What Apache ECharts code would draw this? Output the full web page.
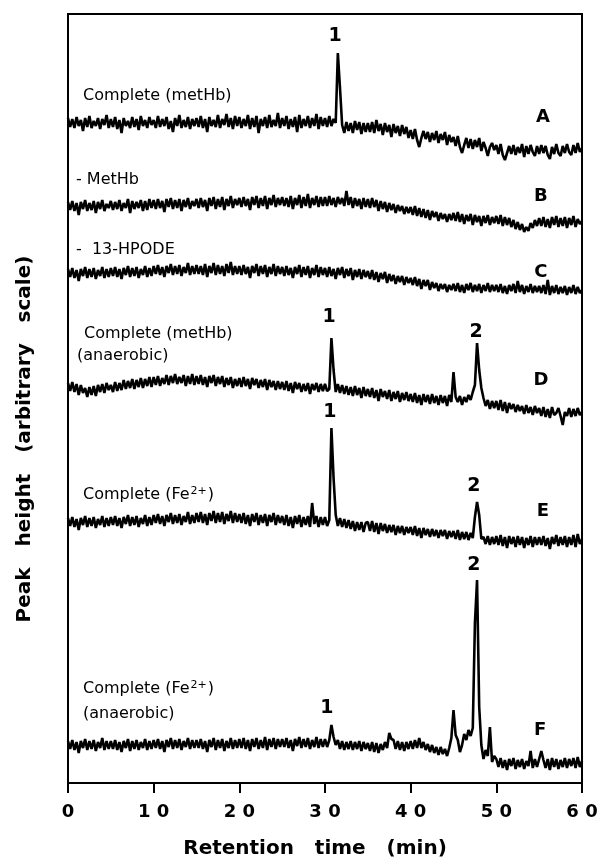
<!DOCTYPE html>
<html>
<head>
<meta charset="utf-8">
<script src="https://cdn.jsdelivr.net/npm/echarts@6/dist/echarts.min.js"></script>
<style>
  html, body { margin: 0; background: #fff; }
  #chart { width: 599px; height: 860px; }
</style>
</head>
<body>
<div id="chart"></div>
<script>
// retention time grid: one reading every 0.25 min, 0..60
const step = 0.25;

// detector traces, arbitrary units, stacked (A on top, F at the bottom)
const traceA = [
  665,656,664,655,666,657,663,652,665,656,667,655,662,657,665,654,664,658,668,655,
  664,656,666,654,663,650,665,657,662,655,666,656,664,653,667,657,663,655,666,658,
  663,655,667,656,664,657,666,654,662,651,665,657,668,655,663,656,666,654,664,657,
  665,656,667,655,664,651,666,657,663,656,668,655,664,658,669,656,665,654,667,657,
  666,655,664,657,668,654,665,656,667,650,664,657,666,655,668,656,663,657,670,655,
  665,657,667,654,664,656,666,651,668,655,664,657,667,655,665,657,669,654,666,657,
  665,656,667,657,664,660,730,695,658,650,661,652,660,650,662,653,661,649,660,651,
  660,651,661,650,663,652,659,648,660,651,658,646,659,650,657,647,658,649,656,645,
  653,644,654,643,636,645,652,644,651,641,650,643,652,640,649,643,651,638,648,641,
  646,637,647,636,630,638,645,635,644,634,643,636,645,632,641,635,627,636,640,633,
  638,629,639,628,623,630,637,629,638,628,636,630,639,626,637,629,638,631,627,637,
  629,638,630,637,628,624,636,629,639,630,627,637,630,639,631,628,638,630,640,631,
  635
];
const traceB = [
  581,573,582,572,580,568,581,574,583,572,580,573,582,570,581,574,583,572,579,575,
  582,573,581,574,583,572,580,575,584,570,582,574,581,575,583,572,582,573,584,575,
  583,574,584,575,582,571,584,576,585,574,583,575,584,572,583,576,585,574,582,577,
  584,575,585,576,583,572,585,577,586,574,584,576,586,573,584,577,587,575,584,578,
  585,576,586,577,584,573,586,578,587,575,585,577,587,574,585,578,588,576,585,578,
  586,577,585,576,587,574,585,578,588,575,586,577,589,575,585,578,587,576,586,577,
  586,577,587,578,585,576,586,579,585,577,592,578,586,575,585,577,584,574,585,576,
  584,575,585,576,583,572,582,574,581,571,580,573,579,570,578,572,577,569,576,570,
  576,568,577,567,575,566,574,565,573,563,572,566,571,562,570,564,569,561,569,563,
  570,562,571,561,569,559,568,562,569,558,568,561,567,557,567,560,568,558,566,560,
  567,559,568,557,566,558,565,556,563,554,561,553,559,551,556,552,560,555,563,557,
  565,557,566,556,564,555,566,558,567,556,565,557,566,555,565,558,567,556,564,559,
  562
];
const traceC = [
  514,506,515,505,513,502,514,507,516,505,514,506,515,504,513,507,516,505,514,506,
  515,507,516,506,514,504,515,508,517,506,515,507,516,505,514,508,517,506,515,507,
  517,509,518,508,516,506,517,510,519,508,517,509,518,507,516,510,520,508,517,509,
  518,509,517,508,519,506,517,510,520,508,518,509,517,507,519,510,521,508,517,509,
  517,508,518,509,516,505,517,510,519,507,517,509,518,506,516,509,519,507,517,509,
  516,507,517,508,515,505,516,509,518,506,516,508,517,505,515,508,518,506,516,508,
  515,506,516,507,514,504,515,508,516,505,514,507,515,503,513,506,514,504,513,506,
  512,504,513,503,511,501,510,504,511,500,509,502,508,499,507,501,507,498,506,500,
  505,498,506,497,504,494,503,497,503,493,501,495,500,492,499,494,499,491,498,493,
  499,492,500,491,498,490,499,493,500,491,498,492,499,490,498,492,500,491,498,492,
  498,491,499,490,497,489,498,492,499,490,502,491,498,489,497,491,499,490,497,491,
  497,490,498,489,503,488,497,490,498,489,496,490,497,488,496,490,498,489,496,490,
  493
];
const traceD = [
  400,392,401,391,399,388,398,390,395,386,396,388,397,387,398,391,399,390,400,393,
  398,391,401,392,400,393,403,394,402,395,404,394,403,396,405,395,404,397,406,396,
  406,398,407,397,405,399,408,398,407,400,409,399,406,400,408,397,407,399,409,398,
  407,399,408,398,406,396,407,400,408,397,406,399,407,396,405,398,406,395,404,397,
  405,396,406,397,404,394,405,398,404,395,403,396,404,393,403,396,402,393,402,394,
  401,393,402,392,400,390,401,394,400,391,399,392,400,389,399,393,400,391,399,392,
  399,392,394,445,413,391,399,390,398,389,397,388,396,387,397,388,395,385,396,387,
  394,386,395,385,393,382,394,386,392,384,393,382,391,384,392,381,390,383,391,382,
  389,381,390,380,388,378,389,381,388,379,389,380,387,378,388,380,387,377,388,381,
  411,386,381,387,378,386,381,388,383,391,398,440,413,395,385,377,383,374,382,375,
  382,373,383,372,381,370,380,374,379,371,378,372,377,369,378,370,376,368,377,370,
  375,367,376,366,374,365,376,368,370,375,367,358,371,367,375,366,374,367,375,368,
  371
];
const traceE = [
  265,257,266,256,264,253,265,258,267,256,265,257,266,255,264,258,267,256,265,257,
  266,258,267,257,265,255,266,259,268,257,266,258,267,256,265,259,268,257,266,258,
  268,260,269,259,267,257,268,261,270,259,268,260,269,258,267,261,271,259,268,260,
  270,261,271,260,269,258,270,262,272,260,270,261,271,259,269,262,272,260,270,261,
  269,260,270,259,268,257,269,261,270,258,268,260,269,257,268,261,270,258,268,260,
  267,258,268,257,266,255,267,259,268,256,266,258,267,256,280,259,267,256,266,258,
  266,257,263,355,305,268,257,265,256,264,255,263,254,262,252,261,253,261,251,260,
  261,252,262,251,260,249,260,252,259,250,258,251,258,248,257,250,257,248,256,250,
  256,248,257,247,255,245,255,248,254,246,254,247,253,245,253,247,253,244,252,246,
  252,244,253,243,251,244,251,243,250,245,266,281,268,244,246,239,247,238,246,239,
  247,238,248,237,246,235,247,239,246,236,247,238,246,235,245,238,247,236,246,238,
  246,238,247,237,245,234,246,239,248,237,246,238,247,236,246,238,248,236,249,239,
  244
];
const traceF = [
  42,34,43,33,41,30,42,35,44,33,42,34,43,32,41,35,45,33,42,34,
  42,34,43,33,41,31,42,35,44,32,42,34,43,33,41,35,44,33,42,34,
  43,35,44,34,42,31,43,36,45,34,43,35,44,33,42,36,45,34,43,35,
  43,35,44,34,42,31,43,36,45,33,43,35,44,32,42,35,45,34,43,35,
  44,35,45,34,43,32,44,36,45,34,43,35,46,33,44,36,45,34,44,36,
  44,36,45,35,43,32,44,37,46,35,44,36,45,34,43,36,46,35,44,36,
  44,36,43,58,46,38,43,34,42,33,41,34,42,33,41,34,42,32,41,34,
  40,32,41,31,40,30,39,33,41,35,50,44,43,34,42,33,41,32,41,34,
  42,34,43,35,45,35,41,33,39,31,38,30,36,28,36,29,34,27,35,45,
  73,48,43,31,38,49,43,53,47,55,160,203,76,38,24,33,27,56,21,27,
  24,16,25,15,23,13,24,17,25,14,23,16,24,14,22,17,32,15,24,16,
  24,32,23,15,24,13,25,16,24,14,23,16,25,15,24,17,25,15,26,16,
  22
];

const traces = [traceA, traceB, traceC, traceD, traceE, traceF];
const times = traceA.map((_, i) => i * step);

// [letter, time, height]
const traceNames = [
  ['A', 55.45, 666], ['B', 55.2, 587], ['C', 55.2, 511],
  ['D', 55.2, 403], ['E', 55.45, 272], ['F', 55.1, 53]
];
// [text, time, height] left aligned condition notes
const conditionNotes = [
  ['{n|Complete (metHb)}', 1.75, 687],
  ['{n|- MetHb}', 0.93, 603],
  ['{n|-  13-HPODE}', 0.93, 533],
  ['{n|Complete (metHb)}', 1.87, 449],
  ['{n|(anaerobic)}', 1.05, 427],
  ['{n|Complete (Fe}{s|2+}{n|)}', 1.75, 288],
  ['{n|Complete (Fe}{s|2+}{n|)}', 1.75, 94],
  ['{n|(anaerobic)}', 1.75, 69]
];
// [peak number, time, height]
const peakNumbers = [
  ['1', 31.17, 747],
  ['1', 30.47, 466], ['2', 47.63, 451],
  ['1', 30.58, 371], ['2', 47.39, 297],
  ['1', 30.23, 75], ['2', 47.39, 218]
];

const chart = echarts.init(document.getElementById('chart'));

chart.setOption({
  animation: false,
  backgroundColor: '#fff',
  grid: {
    left: 68, right: 17, top: 14, bottom: 77,
    containLabel: false,
    outerBoundsMode: 'none',
    show: true, borderColor: '#000', borderWidth: 2
  },
  xAxis: {
    type: 'value',
    min: 0, max: 60, interval: 10,
    name: 'Retention   time   (min)',
    nameLocation: 'middle',
    nameGap: 56,
    nameTextStyle: {
      fontFamily: 'DejaVu Sans', fontWeight: 'bold', fontSize: 20,
      color: '#000', padding: [0, 20, 0, 0]
    },
    axisLine: { lineStyle: { color: '#000', width: 2 } },
    axisTick: { inside: false, length: 10, lineStyle: { color: '#000', width: 2 } },
    axisLabel: {
      margin: 20,
      fontFamily: 'DejaVu Sans', fontWeight: 'bold', fontSize: 18, color: '#000',
      formatter: v => String(v).split('').join(' ')
    },
    splitLine: { show: false }
  },
  yAxis: {
    type: 'value',
    min: 0, max: 769,
    axisLine: { show: true, lineStyle: { color: '#000', width: 2 } },
    axisTick: { show: false },
    axisLabel: { show: false },
    splitLine: { show: false }
  },
  series: traces.map(tr => ({
    type: 'line',
    showSymbol: false,
    symbol: 'none',
    lineStyle: { color: '#000', width: 2.6 },
    data: tr.map((v, i) => [times[i], v])
  }))
});

const px = (t, v) => chart.convertToPixel({ gridIndex: 0 }, [t, v]);
const graphics = [];

conditionNotes.forEach(([text, t, v]) => {
  const p = px(t, v);
  graphics.push({
    type: 'text', x: p[0], y: p[1],
    style: {
      text: text,
      align: 'left', verticalAlign: 'middle',
      rich: {
        n: { fontFamily: 'DejaVu Sans', fontSize: 16, color: '#000', lineHeight: 18 },
        s: { fontFamily: 'DejaVu Sans', fontSize: 11, color: '#000', lineHeight: 11, verticalAlign: 'top', padding: [0, 1, 0, 1] }
      }
    }
  });
});

peakNumbers.forEach(([text, t, v]) => {
  const p = px(t, v);
  graphics.push({
    type: 'text', x: p[0], y: p[1],
    style: {
      text: text, align: 'center', verticalAlign: 'middle',
      fontFamily: 'DejaVu Sans', fontWeight: 'bold', fontSize: 19, fill: '#000'
    }
  });
});

traceNames.forEach(([text, t, v]) => {
  const p = px(t, v);
  graphics.push({
    type: 'text', x: p[0], y: p[1],
    style: {
      text: text, align: 'center', verticalAlign: 'middle',
      fontFamily: 'DejaVu Sans', fontWeight: 'bold', fontSize: 18, fill: '#000'
    }
  });
});

// y axis title, read bottom to top, sits lower than the plot centre
graphics.push({
  type: 'text', x: 25, y: 439, rotation: Math.PI / 2,
  style: {
    text: 'Peak   height   (arbitrary   scale)',
    align: 'center', verticalAlign: 'middle',
    fontFamily: 'DejaVu Sans', fontWeight: 'bold', fontSize: 20, fill: '#000'
  }
});

chart.setOption({ graphic: graphics });
</script>
</body>
</html>
